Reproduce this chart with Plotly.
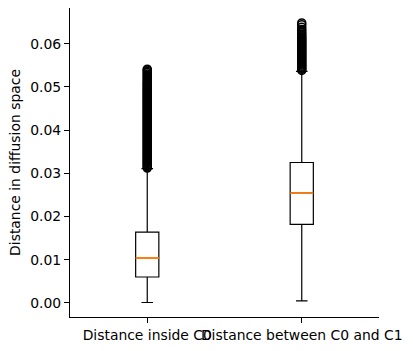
import plotly.graph_objects as go

categories = ["Distance inside C0", "Distance between C0 and C1"]
positions = [1, 2]
q1 = [0.0060, 0.0182]
median = [0.0104, 0.0254]
q3 = [0.0164, 0.0325]
lower_whisker = [0.0001, 0.0005]
upper_whisker = [0.0311, 0.0536]

outliers_c0 = [
    0.03120, 0.03145, 0.03170, 0.03195, 0.03220, 0.03245, 0.03270, 0.03295, 0.03320, 0.03345,
    0.03370, 0.03395, 0.03420, 0.03445, 0.03470, 0.03495, 0.03520, 0.03545, 0.03570, 0.03595,
    0.03620, 0.03645, 0.03670, 0.03695, 0.03720, 0.03745, 0.03770, 0.03795, 0.03820, 0.03845,
    0.03870, 0.03895, 0.03920, 0.03945, 0.03970, 0.03995, 0.04020, 0.04045, 0.04070, 0.04095,
    0.04120, 0.04145, 0.04170, 0.04195, 0.04220, 0.04245, 0.04270, 0.04295, 0.04320, 0.04345,
    0.04370, 0.04395, 0.04420, 0.04445, 0.04470, 0.04495, 0.04520, 0.04545, 0.04570, 0.04595,
    0.04620, 0.04645, 0.04670, 0.04695, 0.04720, 0.04745, 0.04770, 0.04795, 0.04820, 0.04845,
    0.04870, 0.04895, 0.04920, 0.04945, 0.04970, 0.04995, 0.05020, 0.05045, 0.05070, 0.05095,
    0.05120, 0.05150, 0.05180, 0.05210, 0.05240, 0.05270, 0.05300, 0.05330, 0.05360, 0.05390,
    0.05410,
]
outliers_c0c1 = [
    0.05380, 0.05405, 0.05430, 0.05455, 0.05480, 0.05505, 0.05530, 0.05555, 0.05580, 0.05605,
    0.05630, 0.05655, 0.05680, 0.05705, 0.05730, 0.05755, 0.05780, 0.05805, 0.05830, 0.05855,
    0.05880, 0.05905, 0.05930, 0.05955, 0.05980, 0.06005, 0.06030, 0.06055, 0.06080, 0.06105,
    0.06130, 0.06160, 0.06190, 0.06220, 0.06250, 0.06290, 0.06330, 0.06380, 0.06440, 0.06480,
]
y_ticks = [0.00, 0.01, 0.02, 0.03, 0.04, 0.05, 0.06]

box_width = 0.15

fig = go.Figure()
fig.add_trace(go.Box(
    x=positions, q1=q1, median=median, q3=q3,
    lowerfence=lower_whisker, upperfence=upper_whisker,
    width=box_width, whiskerwidth=0.5, boxpoints=False,
    fillcolor="white", line=dict(color="black", width=1.2),
    showlegend=False, hoverinfo="skip",
))
fig.add_trace(go.Box(
    x=positions, q1=median, median=median, q3=median,
    lowerfence=median, upperfence=median,
    width=box_width, whiskerwidth=0, boxpoints=False,
    fillcolor="rgba(0,0,0,0)", line=dict(color="#ff7f0e", width=1.8),
    showlegend=False, hoverinfo="skip",
))
for pos, vals in zip(positions, [outliers_c0, outliers_c0c1]):
    fig.add_trace(go.Scatter(
        x=[pos] * len(vals), y=vals, mode="markers",
        marker=dict(symbol="circle-open", size=8, color="black", line=dict(width=1.5)),
        showlegend=False, hoverinfo="skip",
    ))

fig.update_layout(
    width=413, height=351,
    margin=dict(l=70, r=34, t=8, b=34),
    plot_bgcolor="white", paper_bgcolor="white",
    boxmode="overlay",
    font=dict(family="DejaVu Sans", size=13.9, color="black"),
)
fig.update_xaxes(
    range=[0.5, 2.5], tickvals=positions, ticktext=categories, tickangle=0,
    showline=True, linecolor="black", linewidth=1, mirror=False,
    ticks="outside", ticklen=5, tickcolor="black", showgrid=False, zeroline=False,
    tickfont=dict(size=13.9),
)
fig.update_yaxes(
    range=[-0.00325, 0.06825], tickvals=y_ticks, tickformat=".2f",
    showline=True, linecolor="black", linewidth=1,
    ticks="outside", ticklen=5, tickcolor="black", showgrid=False, zeroline=False,
    title=dict(text="Distance in diffusion space", font=dict(size=13.9), standoff=6),
    tickfont=dict(size=13.9),
)
fig.write_html("out.html")
